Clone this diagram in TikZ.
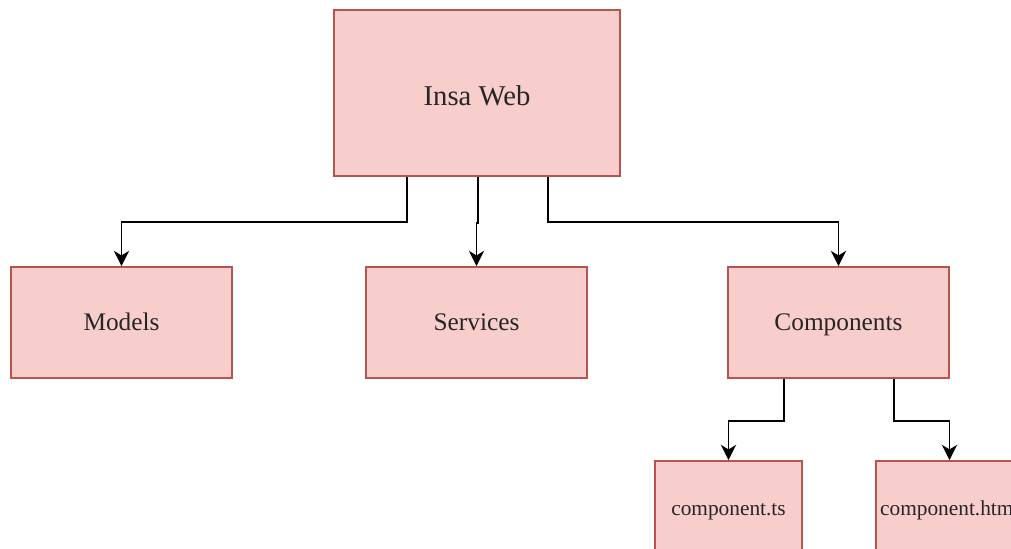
\documentclass[tikz,border=0pt]{standalone}
\usepackage{fontspec}
\setmainfont{Liberation Serif}
\usetikzlibrary{arrows.meta}
\definecolor{boxfill}{HTML}{F8CECC}
\definecolor{boxline}{HTML}{B85450}
\begin{document}
\begin{tikzpicture}[x=0.75pt,y=-0.75pt,
  box/.style={draw=boxline,fill=boxfill,line width=1.3pt,inner sep=0pt,text=black!85,text depth=0pt},
  big/.style={box,minimum width=165.75pt,minimum height=83.25pt,text height=12pt,font=\fontsize{19}{22}\selectfont},
  small/.style={box,minimum width=110.25pt,minimum height=72pt,text height=9.5pt,font=\fontsize{16}{19}\selectfont},
  conn/.style={line width=1.4pt,-{Stealth[length=11.5pt,width=11.5pt,inset=3.5pt]}}]
\clip (0,0) rectangle (1011,549);
\fill[white] (0,0) rectangle (1011,549);
\node[box,minimum width=214.5pt,minimum height=124.5pt,text height=18.5pt,font=\fontsize{21.5}{24}\selectfont] (insa) at (477,93) {Insa Web};
\node[big] (models) at (121.5,322.5) {Models};
\node[big] (services) at (476.5,322.5) {Services};
\node[big] (comps) at (838.5,322.5) {Components};
\node[small] (ts) at (728.5,509) {component.ts};
\node[small,text width=106pt,align=left] (html) at (949.5,509) {\hspace*{1pt}component.html};
\draw[conn] ([xshift=-52.5pt]insa.south) -- ++(0,45) -| (models.north);
\draw[conn] ([xshift=0.75pt]insa.south) -- ++(0,46) -| (services.north);
\draw[conn] ([xshift=53.25pt]insa.south) -- ++(0,45) -| (comps.north);
\draw[conn] ([xshift=-40.9pt]comps.south) -- ++(0,42) -| (ts.north);
\draw[conn] ([xshift=41.6pt]comps.south) -- ++(0,42) -| (html.north);
\end{tikzpicture}
\end{document}
